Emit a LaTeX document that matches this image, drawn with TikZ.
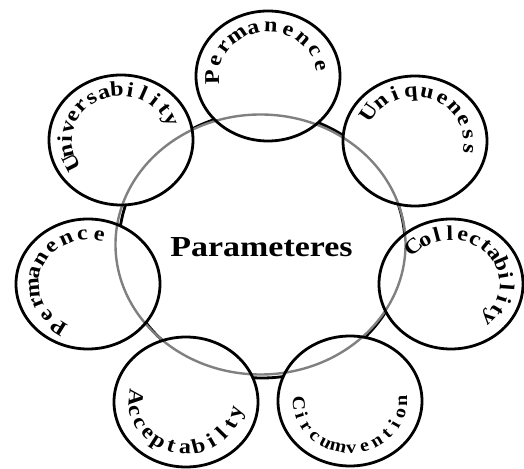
\documentclass[tikz,border=0pt]{standalone}
\usepackage{fontspec}
\setmainfont{Liberation Serif}
\newlength\arcchw
\def\arcsize{21pt}
\def\arcxs{1.15}
\newcommand\arcletter[1]{\scalebox{\arcxs}[1]{\bfseries\fontsize{\arcsize}{\arcsize}\selectfont #1}}
% #1 centre, #2 start angle, #3 end angle, #4 x radius, #5 y radius,
% #6 direction (1 = counter-clockwise, -1 = clockwise), #7 letters (comma list)
\newcommand\arctext[7]{%
  \gdef\arctotw{0}\gdef\arcn{0}%
  \foreach \letr in {#7}{%
    \settowidth{\arcchw}{\arcletter{\letr}}%
    \pgfmathsetmacro\arctmp{\arctotw+\arcchw}\xdef\arctotw{\arctmp}%
    \pgfmathtruncatemacro\arctmpn{\arcn+1}\xdef\arcn{\arctmpn}}%
  \pgfmathsetmacro\arcrad{(#4+#5)/2-(#6+1)*3}%
  \pgfmathsetmacro\arclen{abs(#3-#2)*pi/180*\arcrad}%
  \pgfmathsetmacro\arcgap{(\arclen-\arctotw)/(\arcn-1)}%
  \xdef\arcgap{\arcgap}\xdef\arcrad{\arcrad}%
  \gdef\arcpos{0}%
  \foreach \letr [count=\i] in {#7}{%
    \settowidth{\arcchw}{\arcletter{\letr}}%
    \pgfmathsetmacro\arcang{#2+#6*(\arcpos+\arcchw/2)/\arcrad*180/pi}%
    \pgfmathsetmacro\arcrot{\arcang+#6*90}%
    \path (#1) ++(\arcang:#4pt and #5pt)
      node[anchor=base, inner sep=0pt, rotate=\arcrot] (#1-\i) {\arcletter{\letr}};
    \pgfmathsetmacro\arctmp{\arcpos+\arcchw+\arcgap}\xdef\arcpos{\arctmp}}%
}
\tikzset{
  outerfill/.style={fill=white},
  outerline/.style={draw=black, line width=2.8pt},
  bigblack/.style={draw=black, line width=2.8pt},
  biggray/.style={draw=black!50, line width=2.4pt},
}
\begin{document}
\begin{tikzpicture}[x=1pt,y=1pt]
\useasboundingbox (0,0) rectangle (524,468);
\coordinate (mid) at (262,223);
\coordinate (permT) at (268,392);
\coordinate (univ) at (121,328);
\coordinate (uniq) at (415,327);
\coordinate (coll) at (451,184);
\coordinate (circ) at (350,67);
\coordinate (acc) at (186,66);
\coordinate (permL) at (88,184);
% big black ring
\draw[bigblack] (mid) ellipse[x radius=143pt, y radius=133pt];
% white fills of the outer circles
\foreach \c in {permT,univ,uniq,coll,circ,acc,permL}
  \fill[outerfill] (\c) ellipse[x radius=72pt, y radius=65pt];
% gray ring
\draw[biggray] (260.5,223.5) ellipse[x radius=145pt, y radius=130pt];
% outlines of the outer circles
\foreach \c in {permT,univ,uniq,coll,circ,acc,permL}
  \draw[outerline] (\c) ellipse[x radius=72pt, y radius=65pt];
% centre label
\node[anchor=base, inner sep=0pt] (title) at (261.5,211)
  {\scalebox{1.17}[1]{\bfseries\fontsize{29}{29}\selectfont Parameteres}};
% curved labels
\arctext{permT}{181}{12}{49}{44}{-1}{P,e,r,m,a,n,e,n,c,e}
\arctext{univ}{207}{24}{49}{44}{-1}{U,n,i,v,e,r,s,a,b,i,l,i,t,y}
\arctext{uniq}{146}{-9}{49}{44}{-1}{U,n,i,q,u,e,n,e,s,s}
\arctext{coll}{132}{-45}{49}{44}{-1}{C,o,l,l,e,c,t,a,b,i,l,i,t,y}
\arctext{permL}{238}{78}{49}{44}{-1}{P,e,r,m,a,n,e,n,c,e}
\arctext{acc}{175}{347}{57}{52}{1}{A,c,c,e,p,t,a,b,i,l,t,y}
\def\arcsize{18pt}\def\arcxs{1.12}
\arctext{circ}{183}{360}{57}{52}{1}{C,i,r,c,u,m,v,e,n,t,i,o,n}
\end{tikzpicture}
\end{document}
